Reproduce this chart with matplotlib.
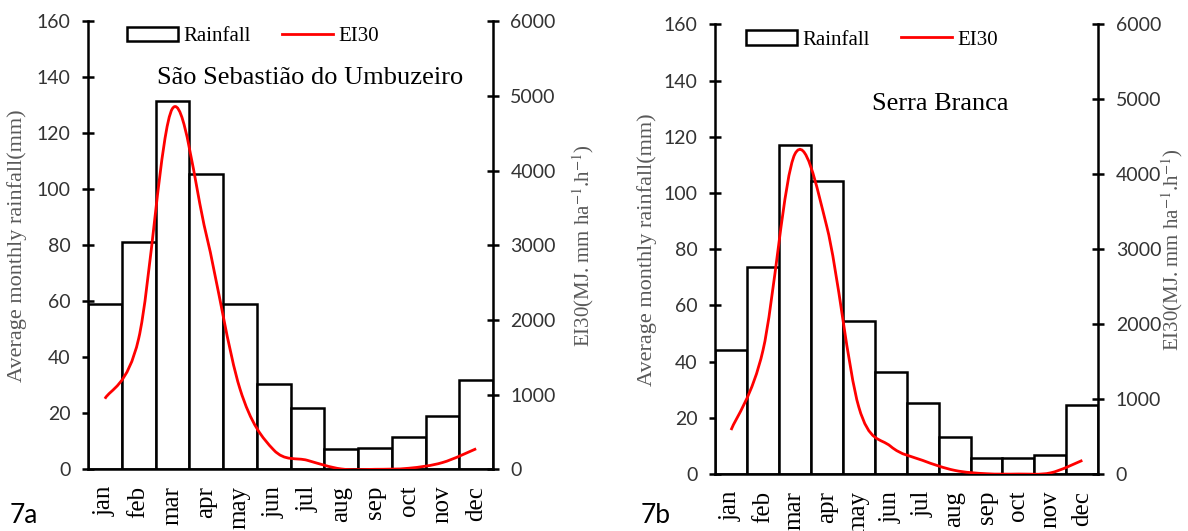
import matplotlib
matplotlib.use("Agg")
import matplotlib.pyplot as plt
import numpy as np
from matplotlib.path import Path
from matplotlib.patches import PathPatch, Patch
from matplotlib.lines import Line2D

months = ["jan", "feb", "mar", "apr", "may", "jun", "jul", "aug", "sep", "oct", "nov", "dec"]

rain_a = [59.0, 81.0, 131.6, 105.6, 59.0, 30.5, 21.9, 7.2, 7.6, 11.4, 19.2, 32.0]
ei30_a = [945, 1750, 4830, 3150, 1080, 260, 120, 5, 0, 14, 90, 275]

rain_b = [44.1, 73.7, 117.0, 104.2, 54.6, 36.3, 25.4, 13.2, 5.8, 5.8, 6.6, 24.6]
ei30_b = [587, 1650, 4270, 3300, 895, 369, 182, 49, 4, 0, 15, 182]

title_a = "São Sebastião do Umbuzeiro"
title_b = "Serra Branca"

rain_ticks = [0, 20, 40, 60, 80, 100, 120, 140, 160]
ei_ticks = [0, 1000, 2000, 3000, 4000, 5000, 6000]

SERIF = "Liberation Serif"
SANS = "Lato"
plt.rcParams["mathtext.fontset"] = "stix"

fig = plt.figure(figsize=(11.88, 5.31), dpi=100)


def smooth_path(xs, ys):
    pts = np.column_stack([xs, ys]).astype(float)
    n = len(pts)
    verts = [pts[0]]
    codes = [Path.MOVETO]
    for i in range(n - 1):
        p0 = pts[i - 1] if i > 0 else pts[i]
        p1 = pts[i]
        p2 = pts[i + 1]
        p3 = pts[i + 2] if i + 2 < n else pts[i + 1]
        c1 = p1 + (p2 - p0) / 6.0
        c2 = p2 - (p3 - p1) / 6.0
        verts += [c1, c2, p2]
        codes += [Path.CURVE4, Path.CURVE4, Path.CURVE4]
    return Path(verts, codes)


def panel(rect, rain, ei, title, title_pos, leg_x, letter, letter_x,
          ylab_x, y2lab_x):
    ax = fig.add_axes(rect)
    x = np.arange(len(months))
    ax.bar(x, rain, width=1.0, color="white", edgecolor="black", linewidth=1.8, zorder=2)
    ax.set_xlim(-0.5, 11.5)
    ax.set_ylim(0, 160)
    ax.set_yticks(rain_ticks)
    ax.set_xticks(x)
    ax.set_xticklabels(months, rotation=90, fontfamily=SERIF, fontsize=18)
    ax.tick_params(axis="x", length=0, pad=12)
    ax.tick_params(axis="y", direction="inout", length=9, width=1.8, pad=8,
                   labelsize=14, labelcolor="#333333")
    for lab in ax.get_yticklabels():
        lab.set_fontfamily(SANS)
    for s in ["top", "right"]:
        ax.spines[s].set_visible(False)
    for s in ["left", "bottom"]:
        ax.spines[s].set_linewidth(1.8)
    ax.set_ylabel("Average monthly rainfall(mm)", fontfamily=SERIF, fontsize=16,
                  color="#595959")
    ax.yaxis.set_label_coords(ylab_x, 0.5)

    ax2 = ax.twinx()
    ax2.set_ylim(0, 6000)
    ax2.set_yticks(ei_ticks)
    ax2.add_patch(PathPatch(smooth_path(x, ei), facecolor="none", edgecolor="red",
                            linewidth=2.0, zorder=3))
    ax2.tick_params(axis="y", direction="inout", length=9, width=1.8, pad=8,
                    labelsize=14, labelcolor="#333333")
    for lab in ax2.get_yticklabels():
        lab.set_fontfamily(SANS)
    for s in ["top", "left", "bottom"]:
        ax2.spines[s].set_visible(False)
    ax2.spines["right"].set_linewidth(1.8)
    ax2.set_ylabel(r"EI30(MJ. mm ha$^{-1}$.h$^{-1}$)", fontfamily=SERIF, fontsize=15,
                   color="#595959", rotation=90)
    ax2.yaxis.set_label_coords(y2lab_x, 0.5)

    ax2.text(title_pos[0], title_pos[1], title, transform=ax2.transAxes,
             fontfamily=SERIF, fontsize=19, ha="left", va="center")

    handles = [Patch(facecolor="white", edgecolor="black", linewidth=1.8),
               Line2D([], [], color="red", linewidth=2.0)]
    ax2.legend(handles, ["Rainfall", "EI30"], ncol=2, frameon=False,
               loc="center left", bbox_to_anchor=(leg_x, 0.966),
               borderaxespad=0, borderpad=0, handlelength=2.45,
               handletextpad=0.25, columnspacing=1.5,
               prop={"family": SERIF, "size": 15})

    fig.text(letter_x, 0.03, letter, fontfamily=SANS, fontsize=19,
             ha="left", va="center")
    return ax, ax2


panel([0.0741, 0.1162, 0.3409, 0.8438], rain_a, ei30_a, title_a, (0.170, 0.873),
      0.096, "7a", 0.0084, -0.15, 1.19)
panel([0.6019, 0.1073, 0.3226, 0.8467], rain_b, ei30_b, title_b, (0.41, 0.824),
      0.081, "7b", 0.539, -0.151, 1.16)

fig.savefig("out.png", dpi=100)
